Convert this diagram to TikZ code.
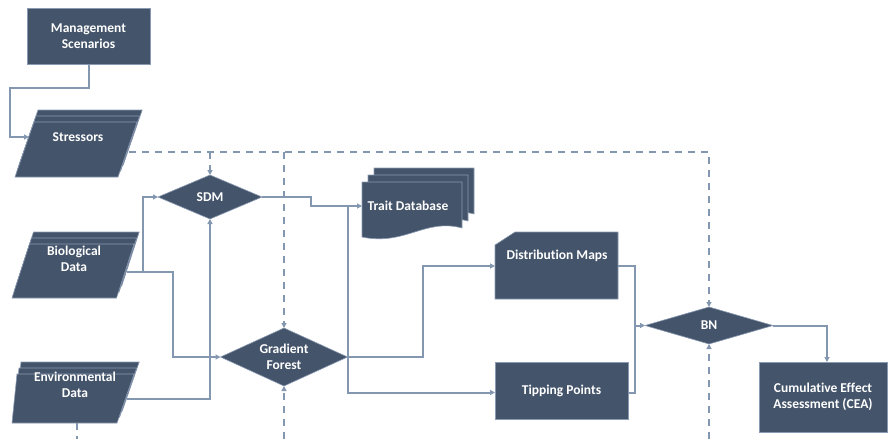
\documentclass[tikz,border=0pt]{standalone}
\usepackage{fontspec}
\setmainfont{Carlito}[Ligatures={NoCommon}]
\usetikzlibrary{arrows.meta}
\definecolor{boxfill}{HTML}{44546A}
\definecolor{linec}{HTML}{8497B0}
\definecolor{boxedge}{HTML}{8A9AB2}
\begin{document}
\begin{tikzpicture}[x=1pt,y=-1pt,
  shapefill/.style={fill=boxfill, draw=boxedge, line width=0.6pt},
  lbl/.style={text=white, font=\fontsize{13.5}{16}\selectfont\bfseries, align=center, inner sep=0pt},
  flow/.style={draw=linec, line width=2pt, -{Triangle[length=5pt,width=5pt]}},
  flowplain/.style={draw=linec, line width=2pt},
  dflow/.style={draw=linec, line width=2pt, dash pattern=on 7pt off 6pt, -{Triangle[length=5pt,width=5pt]}},
  dplain/.style={draw=linec, line width=2pt, dash pattern=on 7pt off 6pt},
]
\useasboundingbox (0,0) rectangle (888,439);

% Management Scenarios
\node[shapefill, minimum width=123pt, minimum height=56pt, inner sep=0pt, lbl] (mgmt) at (88.5,36) {Management\\Scenarios};

% Stressors (multiple data)
\foreach \d in {2,1,0} {
  \filldraw[shapefill] ({34+2*\d},{122-6*\d}) -- ({137+2.6*\d},{122-6*\d}) -- ({118+2.6*\d},{177-6*\d}) -- ({15+2*\d},{177-6*\d}) -- cycle;
}
\node[lbl] (stress) at (78,137) {Stressors};
\coordinate (stressL) at (29,137);
\coordinate (stressR) at (129,152);

% Biological Data
\foreach \d in {2,1,0} {
  \filldraw[shapefill] ({29.5+2*\d},{244-6*\d}) -- ({134+2.6*\d},{244-6*\d}) -- ({116.5+2.6*\d},{298-6*\d}) -- ({12+2*\d},{298-6*\d}) -- cycle;
}
\node[lbl] (bio) at (74,259) {Biological\\Data};
\coordinate (bioR) at (127,272);

% Environmental Data
\foreach \d in {2,1,0} {
  \filldraw[shapefill] ({17+2*\d},{374-6*\d}) -- ({134+2.6*\d},{374-6*\d}) -- ({117+2.6*\d},{423-6*\d}) -- ({12+2*\d},{423-6*\d}) -- cycle;
}
\node[lbl] (env) at (75,384.5) {Environmental\\Data};
\coordinate (envR) at (127,399);
\coordinate (envB) at (77,423);

% SDM diamond
\filldraw[shapefill] (158,197) -- (210,175) -- (262,197) -- (210,219) -- cycle;
\node[lbl] (sdm) at (210,197) {SDM};
\coordinate (sdmL) at (158,197);
\coordinate (sdmR) at (262,197);
\coordinate (sdmT) at (210,175);
\coordinate (sdmB) at (210,219);

% Gradient Forest diamond
\filldraw[shapefill] (220.5,357) -- (284,328) -- (347.5,357) -- (284,386) -- cycle;
\node[lbl] (gf) at (284,357) {Gradient\\Forest};
\coordinate (gfL) at (220.5,357);
\coordinate (gfR) at (347.5,357);
\coordinate (gfT) at (284,328);
\coordinate (gfB) at (284,386);

% Trait Database (multiple documents)
\foreach \d in {2,1,0} {
  \filldraw[shapefill] ({362+6*\d},{182-7*\d}) -- ({462+6*\d},{182-7*\d}) -- ({462+6*\d},{228-7*\d})
    .. controls ({425+6*\d},{218-7*\d}) and ({405+6*\d},{246-7*\d}) .. ({362+6*\d},{237-7*\d}) -- cycle;
}
\node[lbl] (trait) at (408,206) {Trait Database};
\coordinate (traitL) at (362,206);

% Distribution Maps (card)
\filldraw[shapefill] (515,232) -- (618,232) -- (618,299) -- (495,299) -- (495,245) -- cycle;
\node[lbl] (dm) at (557,256) {Distribution Maps};
\coordinate (dmL) at (495,266);
\coordinate (dmR) at (618,266);

% Tipping Points
\node[shapefill, minimum width=133pt, minimum height=57pt, inner sep=0pt, lbl] (tp) at (561.5,390.5) {Tipping Points};
\coordinate (tpL) at (495,392.5);
\coordinate (tpR) at (628,392.5);

% BN diamond
\filldraw[shapefill] (645,325.5) -- (709,307) -- (773,325.5) -- (709,344) -- cycle;
\node[lbl] (bn) at (709,325.5) {BN};
\coordinate (bnL) at (645,325.5);
\coordinate (bnR) at (773,325.5);
\coordinate (bnT) at (709,307);
\coordinate (bnB) at (709,344);

% CEA
\node[shapefill, minimum width=128pt, minimum height=70pt, inner sep=0pt, lbl] (cea) at (823,397) {Cumulative Effect\\Assessment (CEA)};
\coordinate (ceaT) at (827,362);

% helper coordinates
\coordinate (junc) at (348,206);
\coordinate (dj1) at (210,152);
\coordinate (dj2) at (284,152);
\coordinate (bot1) at (284,439);
\coordinate (bot2) at (709,439);
\coordinate (bot3) at (77,439);

% solid connectors
\draw[flow] (mgmt.south) -- (88.5,88) -- (10,88) |- (stressL);
\draw[flow] (bioR) -- (143,272) |- (sdmL);
\draw[flow] (bioR) -- (173,272) |- (gfL);
\draw[flow] (envR) -| (sdmB);
\draw[flow] (sdmR) -- (311,197) -- (311,206) -- (traitL);
\draw[flow] (junc) |- (tpL);
\draw[flow] (gfR) -- (423,357) |- (dmL);
\draw[flow] (dmR) -- (635,266) |- (bnL);
\draw[flowplain] (tpR) -- (635,392.5) -- (635,325.5);
\draw[flow] (bnR) -| (ceaT);

% dashed connectors
\draw[dflow] (stressR) -| (bnT);
\draw[dflow] (dj1) -- (sdmT);
\draw[dflow] (dj2) -- (gfT);
\draw[dflow] (bot1) -- (gfB);
\draw[dflow] (bot2) -- (bnB);
\draw[dplain] (envB) -- (bot3);
\end{tikzpicture}
\end{document}
